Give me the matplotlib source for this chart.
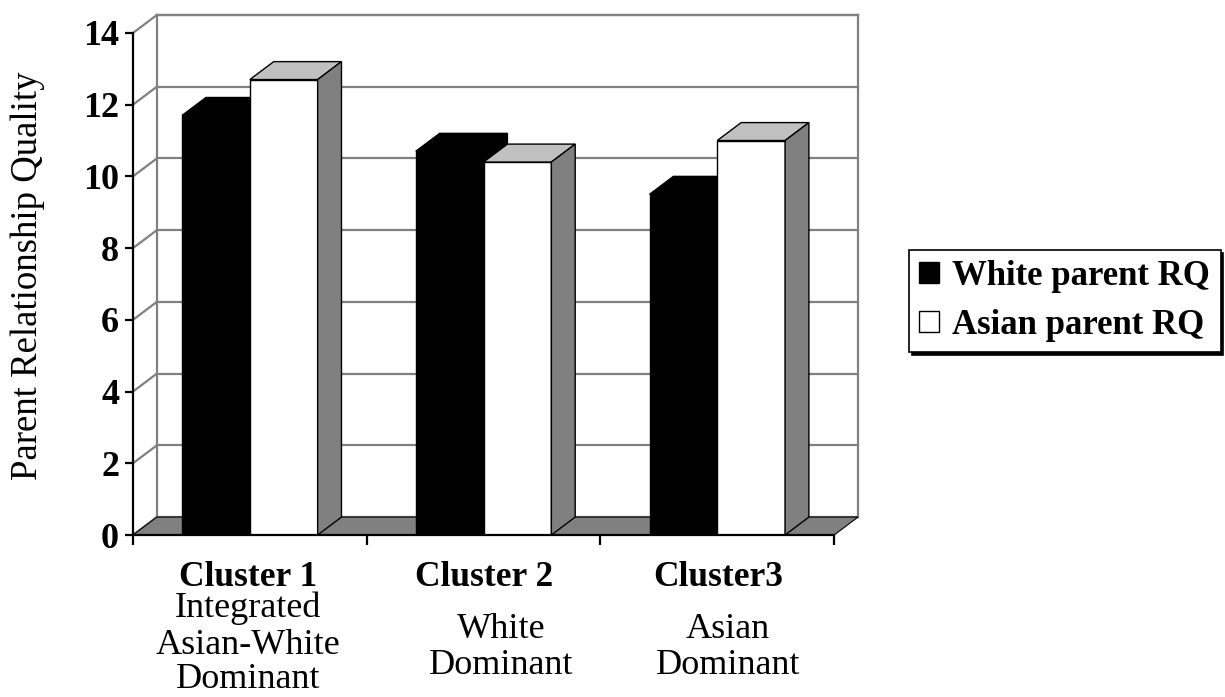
import matplotlib.pyplot as plt
from matplotlib.patches import Polygon, Patch
import numpy as np

plt.rcParams['font.family'] = ['Liberation Serif', 'DejaVu Serif']

clusters = ['Cluster 1', 'Cluster 2', 'Cluster3']
subtitles = [['Integrated', 'Asian-White', 'Dominant'],
             ['White', 'Dominant'],
             ['Asian', 'Dominant']]
white_rq = [11.7, 10.7, 9.5]
asian_rq = [12.7, 10.4, 11.0]
series_names = ['White parent RQ', 'Asian parent RQ']
yticks = [0, 2, 4, 6, 8, 10, 12, 14]

# fake 3d depth in data units
dx = 0.102
dy = 0.5
bw = 0.29
grey = '#808080'
light = '#c0c0c0'

W, H = 1225, 697
fig = plt.figure(figsize=(W / 100, H / 100), dpi=100)
ax = fig.add_axes([133 / W, 1 - 535 / H, 725 / W, 520 / H])
ax.set_xlim(0, 3 + dx)
ax.set_ylim(0, 14 + dy)

# back wall, gridlines and the diagonals to the front axis
for v in yticks:
    ax.plot([dx, 3 + dx], [v + dy, v + dy], color=grey, lw=1.6, zorder=1, clip_on=False)
    ax.plot([0, dx], [v, v + dy], color=grey, lw=1.6, zorder=1, clip_on=False)
ax.plot([dx, dx], [dy, 14 + dy], color=grey, lw=1.6, zorder=1, clip_on=False)
ax.plot([3 + dx, 3 + dx], [dy, 14 + dy], color=grey, lw=1.6, zorder=1, clip_on=False)
ax.plot([dx, 3 + dx], [14 + dy, 14 + dy], color=grey, lw=1.6, zorder=1, clip_on=False)

# floor
ax.add_patch(Polygon([(0, 0), (3, 0), (3 + dx, dy), (dx, dy)], closed=True,
                     facecolor=grey, edgecolor='black', lw=0.8, zorder=2, clip_on=False))

x = np.arange(len(clusters))
z = 3
for i in range(len(clusters)):
    for j, (vals, face, top, side) in enumerate([(white_rq, 'black', 'black', 'black'),
                                                  (asian_rq, 'white', light, grey)]):
        x0 = x[i] + 0.21 + j * bw
        h = vals[i]
        ax.bar(x0, h, width=bw, align='edge', color=face, edgecolor='black',
               lw=1.0, zorder=z)
        ax.add_patch(Polygon([(x0, h), (x0 + bw, h), (x0 + bw + dx, h + dy), (x0 + dx, h + dy)],
                             closed=True, facecolor=top, edgecolor='black', lw=1.0,
                             zorder=z, clip_on=False))
        ax.add_patch(Polygon([(x0 + bw, 0), (x0 + bw + dx, dy), (x0 + bw + dx, h + dy), (x0 + bw, h)],
                             closed=True, facecolor=side, edgecolor='black', lw=1.0,
                             zorder=z, clip_on=False))
        z += 1

for s in ['top', 'right']:
    ax.spines[s].set_visible(False)
ax.spines['left'].set_bounds(0, 14)
ax.spines['bottom'].set_bounds(0, 3)
for s in ['left', 'bottom']:
    ax.spines[s].set_linewidth(1.6)
    ax.spines[s].set_zorder(20)
ax.set_yticks(yticks)
ax.set_yticklabels([str(v) for v in yticks], fontsize=26, fontweight='bold')
ax.set_xticks([0, 1, 2, 3])
ax.set_xticklabels([])
ax.tick_params(axis='y', length=6, width=1.6, pad=4)
ax.tick_params(axis='x', length=7, width=1.6)

fig.text(28 / W, 1 - 276 / H, 'Parent Relationship Quality', rotation=90,
         ha='center', va='center', fontsize=26.5)

# category labels
title_x = [248, 484, 718]
sub_x = [248, 501, 728]
sub_y = [[608, 645, 680], [630, 665], [630, 665]]
for i in range(len(clusters)):
    fig.text(title_x[i] / W, 1 - 578 / H, clusters[i], ha='center', va='center',
             fontsize=25.5, fontweight='bold')
    for t, yy in zip(subtitles[i], sub_y[i]):
        fig.text(sub_x[i] / W, 1 - yy / H, t, ha='center', va='center', fontsize=26)

handles = [Patch(facecolor='black', edgecolor='black'),
           Patch(facecolor='white', edgecolor='black')]
leg = fig.legend(handles, series_names, loc='center left',
                 bbox_to_anchor=(909 / W, 1 - 301 / H), frameon=True, fancybox=False,
                 shadow={'color': 'black', 'alpha': 1}, handlelength=0.55, handleheight=0.55,
                 handletextpad=0.4, borderpad=0.3, borderaxespad=0, labelspacing=0.45,
                 prop={'size': 25, 'weight': 'bold'})
leg.get_frame().set_edgecolor('black')
leg.get_frame().set_linewidth(1.2)

fig.savefig('out.png', dpi=100)
